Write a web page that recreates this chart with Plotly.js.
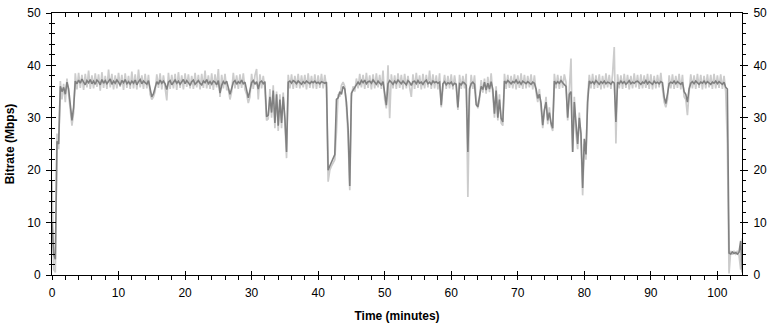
<!DOCTYPE html>
<html>
<head>
<meta charset="utf-8">
<script src="https://cdn.plot.ly/plotly-3.0.1.min.js"></script>
<style>
html,body{margin:0;padding:0;background:#fff;}
#chart{width:773px;height:323px;}
</style>
</head>
<body>
<div id="chart"></div>
<script>
// Samples every 0.25 minute starting at 0 (t = index * 0.25)
const startMinute = 0;
const sampleStep = 0.25;

// Dark grey series (Mbps)
const bitrateMain = [
10,4,3,25.5, 25,36,35,35.8, 34.5,36.8,35.5,33, 29.5,32,37.0,36.5,
37.2,36.6,37.4,36.8, 36.3,37.1,36.7,37.3, 36.5,37.0,36.4,37.2, 36.9,36.3,37.3,36.6,
37.1,36.5,36.9,37.4, 36.4,37.0,36.6,37.2, 36.8,36.2,37.1,36.7, 37.3,36.5,36.9,36.4,
37.0,36.6,37.2,36.3, 36.9,37.3,36.5,37.0, 36.7,36.4,37.1,35.5, 34.0,34.6,35.8,36.9,
36.4,37.2,36.6,37.0, 36.5,35.4,36.8,37.1, 36.3,36.9,37.2,36.6, 37.0,36.4,36.8,37.3,
36.5,37.1,36.7,36.2, 36.9,37.2,36.4,36.8, 37.1,36.6,36.3,37.0, 36.7,37.3,36.5,36.9,
36.4,37.0,36.8,36.3, 37.1,34.7,36.2,36.9, 36.5,37.0,35.8,34.5, 35.6,36.8,37.1,36.4,
36.9,36.6,37.2,36.5, 36.8,35.4,33.8,35.2, 36.7,37.1,36.4,36.9, 35.5,36.8,37.0,36.5,
36.9,30.2,30.5,34.0, 31.0,35.2,29.0,34.5, 28.5,33.5,29.0,34.0, 30.0,23.5,36.8,37.0,
36.6,37.1,36.9,36.5, 37.0,36.7,36.4,36.9, 36.6,37.0,36.8,36.5, 36.9,36.7,37.0,36.6,
36.8,36.5,36.9,36.7, 36.6,36.8,20.0,20.8, 21.5,22.3,23.0,33.5, 33.8,35.0,34.5,36.0,
35.5,33.0,28.0,17.0, 34.7,35.3,35.8,36.2, 36.8,36.4,37.1,36.7, 37.2,36.5,36.9,37.0,
36.6,37.2,36.8,36.4, 37.0,36.7,36.3,36.9, 34.0,32.4,36.5,37.1, 36.8,36.4,37.0,36.6,
37.2,36.9,36.5,37.0, 36.7,36.3,37.1,36.8, 36.2,36.9,37.0,36.5, 37.1,36.6,36.8,36.4,
36.9,37.2,36.5,36.8, 36.4,37.0,36.7,36.9, 36.6,36.8,32.4,36.5, 36.9,36.3,36.7,36.5,
36.8,36.2,36.6,36.4, 32.0,36.5,36.3,36.8, 36.6,36.2,23.5,35.5, 36.5,36.8,36.4,32.5,
32.1,34.0,36.0,35.4, 36.8,35.3,36.6,35.5, 36.9,35.4,30.8,35.2, 30.0,33.5,29.9,29.2,
37.0,36.6,37.1,36.8, 36.5,36.9,36.7,37.2, 36.6,36.9,36.4,37.0, 36.8,36.5,36.9,36.7,
36.4,36.8,36.6,35.5, 33.7,34.5,32.8,28.6, 31.5,33.0,29.5,31.0, 29.0,28.0,37.0,36.5,
36.9,36.6,37.1,36.7, 36.4,36.0,30.0,34.5, 35.0,23.5,33.0,28.5, 25.0,30.0,27.0,16.6,
26.0,23.0,33.0,37.0, 36.6,36.9,36.5,37.1, 36.7,36.4,36.9,36.6, 37.0,36.5,36.8,36.7,
36.4,36.9,36.6,29.2, 36.8,36.5,37.0,36.6, 36.9,36.4,36.7,37.1, 36.5,36.8,36.6,36.9,
37.0,36.7,36.4,36.8, 36.6,37.1,36.5,36.9, 36.7,36.4,37.0,36.6, 36.8,36.5,36.9,36.7,
34.0,32.7,34.5,36.5, 36.8,36.6,37.0,36.5, 36.9,36.7,36.4,36.8, 35.0,34.5,33.0,35.5,
36.6,36.9,36.5,37.0, 36.7,36.4,36.8,36.6, 37.0,36.5,36.9,36.7, 36.4,36.8,36.6,37.0,
36.5,36.9,36.7,36.4, 36.8,35.8,35.5,4.2, 4.0,4.4,4.1,4.3, 4.0,4.3,6.5,0.5
];

// Light grey series (Mbps)
const bitrateSpread = [
18,1,0.5,27, 24,37,33.5,36.5, 33,37.5,34.5,31.5, 28.5,31,38.5,35.4,
38.6,35.7,38.2,35.3, 38.4,35.8,39.0,35.5, 38.1,35.6,38.5,35.9, 38.3,35.2,38.7,35.7,
38.0,35.5,39.2,35.8, 38.4,35.4,38.1,35.6, 38.6,35.9,38.2,35.3, 38.5,35.7,38.0,35.5,
38.8,35.6,38.3,35.4, 39.2,35.8,38.1,35.5, 38.4,35.6,38.2,34.5, 33.5,34.0,35.0,38.3,
35.7,38.5,35.4,38.1, 35.8,33.3,38.6,35.5, 38.2,35.6,38.4,35.3, 38.7,35.7,38.1,35.4,
38.5,35.9,38.3,35.6, 38.0,35.5,38.6,35.8, 38.2,35.4,38.4,35.7, 39.0,35.6,38.1,35.5,
38.5,35.3,38.3,35.8, 39.3,34.0,38.2,35.6, 38.4,35.4,35.5,33.5, 35.0,38.6,35.6,38.1,
35.5,38.3,35.7,38.5, 35.4,34.5,32.8,34.0, 38.4,35.5,38.1,39.3, 33.5,38.3,35.6,38.0,
35.4,29.5,29.8,35.5, 30.0,36.2,28.0,35.0, 27.5,34.5,28.0,34.8, 29.0,22.3,38.2,35.6,
38.3,35.5,38.0,35.7, 38.4,35.6,38.1,35.8, 38.2,35.4,38.5,35.7, 38.0,35.6,38.3,35.5,
38.1,35.7,38.4,35.6, 38.2,35.8,17.8,20.0, 20.8,21.5,22.0,27.3, 34.5,34.0,36.2,36.8,
36.0,32.0,26.5,16.2, 34.0,36.0,35.0,37.5, 35.6,38.4,35.8,38.2, 35.5,38.6,35.7,38.1,
35.4,38.3,35.6,38.5, 35.8,38.2,35.5,39.0, 33.5,31.8,40.0,29.9, 38.3,35.6,38.1,35.5,
38.5,35.7,38.2,35.4, 38.4,35.6,38.0,35.8, 34.0,38.3,35.5,38.6, 35.7,38.1,35.4,38.4,
35.6,38.2,35.8,39.0, 35.5,38.3,35.6,38.1, 35.4,38.5,32.0,35.7, 38.2,35.5,38.0,35.6,
38.3,35.4,38.1,35.7, 31.5,38.2,35.5,38.0, 35.6,38.4,14.9,34.0, 38.2,35.5,38.1,33.5,
31.8,33.5,37.2,34.8, 37.5,34.6,37.8,34.9, 38.5,34.5,30.0,36.0, 29.5,34.5,29.0,28.5,
38.4,35.5,38.2,35.7, 38.0,35.6,38.3,35.4, 38.1,35.7,38.5,35.5, 38.2,35.6,38.0,35.8,
38.3,35.4,38.1,34.8, 33.0,35.5,32.0,28.0, 31.0,34.0,28.8,32.0, 28.5,27.5,38.4,35.6,
38.2,35.5,38.0,35.7, 38.3,36.8,29.5,35.5, 41.3,23.5,34.0,27.0, 24.0,31.0,26.0,15.2,
25.0,22.0,34.0,38.2, 35.6,38.4,35.5,38.1, 35.7,38.3,35.4,38.0, 35.6,38.5,35.8,38.2,
35.5,38.4,43.5,25.1, 38.3,35.6,38.1,35.5, 38.4,35.7,38.2,35.4, 38.0,35.6,38.5,35.8,
38.2,35.5,38.3,35.6, 38.1,35.7,38.4,35.5, 38.3,35.4,38.0,35.6, 38.2,35.8,38.6,35.5,
33.0,32.0,33.5,38.1, 35.6,38.3,35.5,38.0, 35.7,38.4,35.4,38.2, 34.0,33.5,30.5,35.0,
38.3,35.6,38.1,35.5, 38.4,35.7,38.2,35.4, 38.0,35.6,38.3,35.8, 38.2,35.5,38.4,35.6,
38.1,35.7,38.3,35.5, 38.0,35.0,25.0,0.3, 4.6,3.9,4.5,4.0, 4.6,3.8,1.0,7.0
];

const xTitle = "Time (minutes)";
const yTitle = "Bitrate (Mbps)";
const xRange = [0, 103.7];
const yRange = [0, 50];

const fontFam = "Liberation Sans, Arial, sans-serif";
const tickFont = {family: fontFam, size: 12, color: "#000"};

const traces = [
  {type: "scatter", mode: "lines", x0: startMinute, dx: sampleStep, y: bitrateSpread,
   line: {color: "#cccccc", width: 1.7}, hoverinfo: "skip", showlegend: false},
  {type: "scatter", mode: "lines", x0: startMinute, dx: sampleStep, y: bitrateMain,
   line: {color: "#808080", width: 1.6}, hoverinfo: "skip", showlegend: false},
  {type: "scatter", x: [], y: [], xaxis: "x2", yaxis: "y2", showlegend: false},
  {type: "scatter", x: [], y: [], xaxis: "x3", yaxis: "y3", showlegend: false},
  {type: "scatter", x: [], y: [], xaxis: "x", yaxis: "y4", showlegend: false}
];

const common = {showgrid: false, zeroline: false, tickcolor: "#000", tickwidth: 1, linecolor: "#000", linewidth: 1, fixedrange: true};

const layout = {
  width: 773, height: 323,
  paper_bgcolor: "#fff", plot_bgcolor: "#fff",
  margin: {l: 52, r: 31, t: 13, b: 48, pad: 0},
  showlegend: false,
  font: {family: fontFam, size: 12, color: "#000"},
  xaxis: Object.assign({}, common, {
    range: xRange, tick0: 0, dtick: 10, ticks: "outside", ticklen: 4, showline: true,
    tickfont: tickFont, ticklabelstandoff: 3,
    minor: {dtick: 2, tick0: 0, ticks: "outside", ticklen: 4, tickcolor: "#000", showgrid: false},
    title: {text: xTitle, font: {family: fontFam, size: 12, weight: "bold"}, standoff: 12}
  }),
  xaxis2: Object.assign({}, common, {
    range: xRange, overlaying: "x", side: "top", anchor: "y", tick0: 0, dtick: 10,
    ticks: "inside", ticklen: 4, showline: true, showticklabels: false,
    minor: {dtick: 2, tick0: 0, ticks: "inside", ticklen: 4, tickcolor: "#000", showgrid: false}
  }),
  xaxis3: Object.assign({}, common, {
    range: xRange, overlaying: "x", side: "bottom", anchor: "y", tick0: 0, dtick: 10,
    ticks: "inside", ticklen: 4, showline: false, showticklabels: false
  }),
  yaxis: Object.assign({}, common, {
    range: yRange, tick0: 0, dtick: 10, ticks: "outside", ticklen: 5, showline: true,
    tickfont: tickFont, ticklabelstandoff: 3,
    minor: {dtick: 2, tick0: 0, ticks: "outside", ticklen: 2, tickcolor: "#000", showgrid: false},
    title: {text: yTitle, font: {family: fontFam, size: 12, weight: "bold"}, standoff: 10}
  }),
  yaxis3: Object.assign({}, common, {
    range: yRange, overlaying: "y", side: "left", anchor: "x", tick0: 0, dtick: 10,
    ticks: "inside", ticklen: 4, showline: false, showticklabels: false,
    minor: {dtick: 2, tick0: 0, ticks: "inside", ticklen: 3, tickcolor: "#000", showgrid: false}
  }),
  yaxis2: Object.assign({}, common, {
    range: yRange, overlaying: "y", side: "right", anchor: "x", tick0: 0, dtick: 10,
    ticks: "outside", ticklen: 5, showline: true, tickfont: tickFont, ticklabelstandoff: 3,
    minor: {dtick: 2, tick0: 0, ticks: "outside", ticklen: 3, tickcolor: "#000", showgrid: false}
  }),
  yaxis4: Object.assign({}, common, {
    range: yRange, overlaying: "y", side: "right", anchor: "x", tick0: 0, dtick: 10,
    ticks: "inside", ticklen: 2, showline: false, showticklabels: false
  })
};

Plotly.newPlot("chart", traces, layout, {displayModeBar: false, staticPlot: true});
</script>
</body>
</html>
